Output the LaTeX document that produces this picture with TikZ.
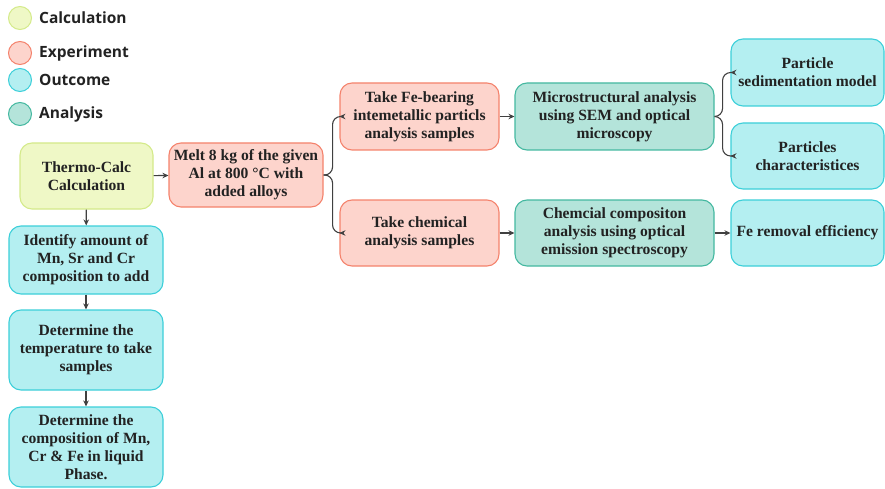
\documentclass[tikz,border=0pt]{standalone}
\usepackage{fontspec}
\setmainfont{Liberation Serif}
\newfontfamily\legendfont{Open Sans}
\usepackage{tikz}
\usetikzlibrary{arrows.meta}

\definecolor{calcfill}{HTML}{EFF8C6}
\definecolor{calcline}{HTML}{D4EA8A}
\definecolor{expfill}{HTML}{FDD4CC}
\definecolor{expline}{HTML}{F4826C}
\definecolor{outfill}{HTML}{B4EFF1}
\definecolor{outline}{HTML}{3CCFD9}
\definecolor{anafill}{HTML}{B4E4DA}
\definecolor{analine}{HTML}{44B8A0}
\definecolor{arrowgray}{HTML}{404040}
\definecolor{textgray}{HTML}{222222}

\begin{document}
\begin{tikzpicture}[x=1pt, y=-1pt,
                    box/.style={rectangle, rounded corners=12pt,
                                line width=1.1pt, align=center,
                                inner sep=2pt, text=textgray,
                                font=\fontsize{15.6}{18}\selectfont\bfseries},
                    calcbox/.style={box, fill=calcfill, draw=calcline},
                    expbox/.style={box, fill=expfill, draw=expline},
                    outbox/.style={box, fill=outfill, draw=outline},
                    anabox/.style={box, fill=anafill, draw=analine},
                    dot/.style={circle, minimum size=23pt, inner sep=0pt,
                                line width=1pt},
                    legend/.style={anchor=west, inner sep=0pt, text=textgray,
                                   font=\legendfont\fontsize{15.5}{18}\selectfont\bfseries},
                    arr/.style={-{Stealth[length=6pt, width=5.5pt]},
                                draw=arrowgray, line width=1.1pt}]
                      \useasboundingbox (0,0) rectangle (885,489);

                      % legend
                      \node[dot, fill=calcfill, draw=calcline] (lc) at (20,18) {};
                      \node[dot, fill=expfill, draw=expline] (le) at (20,53) {};
                      \node[dot, fill=outfill, draw=outline] (lo) at (20,80) {};
                      \node[dot, fill=anafill, draw=analine] (la) at (20,114) {};
                      \node[legend] (lct) at (39,18) {Calculation};
                      \node[legend] (let) at (39,53) {Experiment};
                      \node[legend] (lot) at (39,80) {Outcome};
                      \node[legend] (lat) at (39,114) {Analysis};

                      % left column
                      \node[calcbox, minimum width=133pt, minimum height=66pt] (calc) at (86.5,176) {Thermo-Calc\\Calculation};
                      \node[outbox, minimum width=154pt, minimum height=68pt] (ident) at (86,260) {Identify amount of\\Mn, Sr and Cr\\composition to add};
                      \node[outbox, minimum width=154pt, minimum height=80pt] (temp) at (86,350) {Determine the\\temperature to take\\samples};
                      \node[outbox, minimum width=154pt, minimum height=80pt] (comp) at (86,447) {Determine the\\composition of Mn,\\Cr \& Fe in liquid\\Phase.};

                      % experiments
                      \node[expbox, minimum width=154pt, minimum height=64pt] (melt) at (246,175) {Melt 8 kg of the given\\Al at 800 °C with\\added alloys};
                      \node[expbox, minimum width=159pt, minimum height=67pt] (feb) at (419.5,116.5) {Take Fe-bearing\\intemetallic particls\\analysis samples};
                      \node[expbox, minimum width=159pt, minimum height=66pt] (chem) at (419.5,233) {Take chemical\\analysis samples};

                      % analysis
                      \node[anabox, minimum width=199pt, minimum height=67pt] (micro) at (614.5,116.5) {Microstructural analysis\\using SEM and optical\\microscopy};
                      \node[anabox, minimum width=199pt, minimum height=66pt] (oes) at (614.5,233) {Chemcial compositon\\analysis using optical\\emission spectroscopy};

                      % outcomes
                      \node[outbox, minimum width=153pt, minimum height=67pt] (sed) at (807.5,72.5) {Particle\\sedimentation model};
                      \node[outbox, minimum width=153pt, minimum height=66pt] (char) at (807.5,156) {Particles\\characteristices};
                      \node[outbox, minimum width=153pt, minimum height=66pt] (feeff) at (807.5,233) {Fe removal efficiency};

                      \foreach \i/\j in {calc/ident, ident/temp, temp/comp} {
                              \draw[arr] (\i) -- (\j);
                          }
                      \foreach \i/\j in {calc/melt, feb/micro, chem/oes, oes/feeff} {
                              \draw[arr] (\i) -- (\j);
                          }

                      % braces
                      \foreach \j in {feb, chem} {
                              \draw[arr, rounded corners=8pt] (melt.east) -- ++(9,0) |- (\j.west);
                          }
                      \foreach \j in {sed, char} {
                              \draw[arr, rounded corners=8pt] (micro.east) -- ++(8,0) |- (\j.west);
                          }
                  \end{tikzpicture}
\end{document}
